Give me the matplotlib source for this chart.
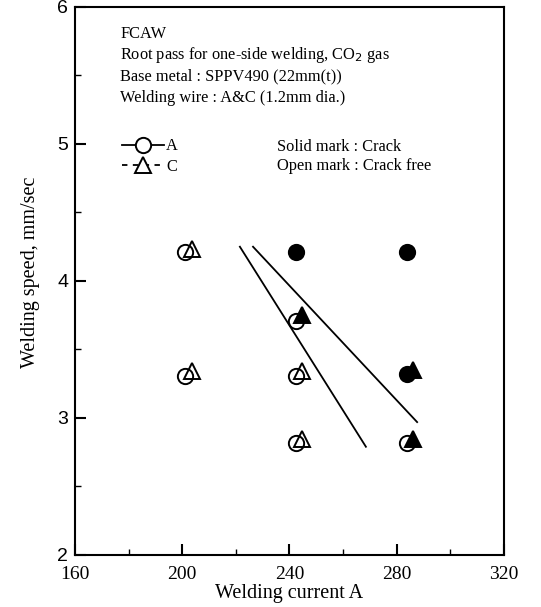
import numpy as np
import matplotlib.pyplot as plt
from matplotlib.lines import Line2D

plt.rcParams['font.family'] = ['Liberation Serif', 'DejaVu Serif']

# wire A (circle)
corrente_A = [201, 201, 242.5, 242.5, 242.5, 242.5, 284, 284, 284]
velocita_A = [4.21, 3.31, 4.21, 3.71, 3.31, 2.82, 4.21, 3.32, 2.82]
cricca_A = [0, 0, 1, 0, 0, 0, 1, 1, 0]

# wire C (triangle)
corrente_C = [203.5, 203.5, 244.5, 244.5, 244.5, 286, 286]
velocita_C = [4.23, 3.34, 3.75, 3.34, 2.85, 3.35, 2.85]
cricca_C = [0, 0, 1, 0, 0, 1, 1]

# boundary lines
linea1_x = [221.5, 268.5]
linea1_y = [4.25, 2.79]
linea2_x = [226.4, 287.6]
linea2_y = [4.25, 2.97]

note = ['FCAW',
        'Root pass for one-side welding, CO$_2$ gas',
        'Base metal : SPPV490 (22mm(t))',
        'Welding wire : A&C (1.2mm dia.)']

fig = plt.figure(figsize=(5.41, 6.07), dpi=100)
ax = fig.add_axes([0.1386, 0.0857, 0.793, 0.9028])

for x, y, c in zip(corrente_A, velocita_A, cricca_A):
    ax.plot(x, y, 'o', markersize=11, markeredgewidth=1.4, markeredgecolor='black',
            markerfacecolor='black' if c else 'white', zorder=3)
for x, y, c in zip(corrente_C, velocita_C, cricca_C):
    ax.plot(x, y, '^', markersize=11, markeredgewidth=1.4, markeredgecolor='black',
            markerfacecolor='black' if c else 'none', zorder=4)

ax.plot(linea1_x, linea1_y, color='black', linewidth=1.3)
ax.plot(linea2_x, linea2_y, color='black', linewidth=1.3)

ax.set_xlim(160, 320)
ax.set_ylim(2, 6)
ax.set_xticks([160, 200, 240, 280, 320])
ax.set_xticks([180, 220, 260, 300], minor=True)
ax.set_yticks([2, 3, 4, 5, 6])
ax.set_yticks([2.5, 3.5, 4.5, 5.5], minor=True)
ax.tick_params(direction='in', length=8, width=1.5)
ax.tick_params(which='minor', direction='in', length=4, width=1)
ax.tick_params(axis='x', pad=8, labelsize=14)
ax.tick_params(axis='y', pad=5, labelsize=14)
for lab in ax.get_yticklabels():
    lab.set_family(['Liberation Sans', 'DejaVu Sans'])
for s in ax.spines.values():
    s.set_linewidth(1.5)

ax.set_xlabel('Welding current A', fontsize=14.5, labelpad=1)
ax.set_ylabel('Welding speed, mm/sec', fontsize=14.5)
ax.yaxis.set_label_coords(-0.082, 0.515)

for i, t in enumerate(note):
    ax.text(0.105, 0.951 - i * 0.039, t, transform=ax.transAxes, fontsize=11.8, va='center')

ax.text(0.47, 0.745, 'Solid mark : Crack', transform=ax.transAxes, fontsize=11.8, va='center')
ax.text(0.47, 0.71, 'Open mark : Crack free', transform=ax.transAxes, fontsize=11.8, va='center')

maniglie = [Line2D([], [], color='black', linewidth=1.3, marker='o', markersize=11,
                   markerfacecolor='white', markeredgewidth=1.4),
            Line2D([], [], color='black', linewidth=1.3, linestyle=(0, (3, 3)), marker='^',
                   markersize=11, markerfacecolor='white', markeredgewidth=1.4)]
ax.legend(maniglie, ['A', 'C'], loc='upper left', bbox_to_anchor=(0.09, 0.775),
          frameon=False, fontsize=11.8, handlelength=2.6, handletextpad=0.1,
          labelspacing=0.25, numpoints=1, borderpad=0)

plt.savefig('out.png', dpi=100)
